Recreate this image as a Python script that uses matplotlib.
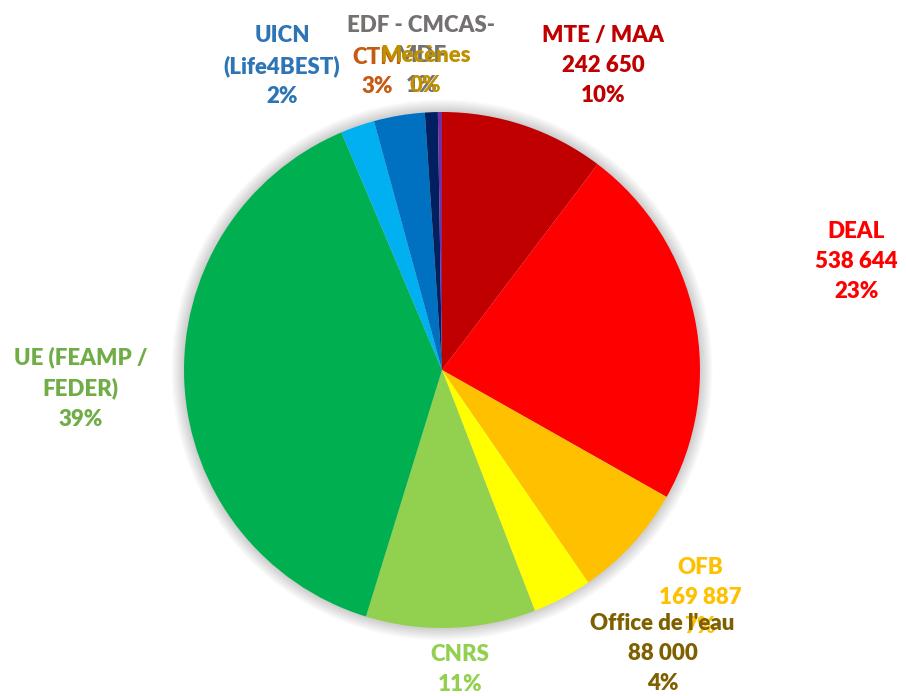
import matplotlib
matplotlib.use("Agg")
import matplotlib.pyplot as plt
from matplotlib.patches import Circle

# funding sources
sources = ["MTE / MAA", "DEAL", "OFB", "Office de l'eau", "CNRS",
           "UE (FEAMP /\nFEDER)", "UICN\n(Life4BEST)", "CTM",
           "EDF - CMCAS-\nMDF", "Mécènes"]
amounts = [242650, 538644, 169887, 88000, 250000,
           915000, 50000, 75000, 19000, 6000]
show_amount = [True, True, True, True, False,
               False, False, False, False, False]

slice_colors = ["#C00000", "#FF0000", "#FFC000", "#FFFF00", "#92D050",
                "#00B050", "#00B0F0", "#0070C0", "#002060", "#7030A0"]
text_colors = ["#C00000", "#FF0000", "#FFC000", "#7F6000", "#92D050",
               "#70AD47", "#2E75B6", "#C55A11", "#767171", "#BF9000"]
# label centres, in units of the pie radius
label_pos = [(0.625, 1.18), (1.605, 0.42), (1.0, -0.88), (0.855, -1.10),
             (0.07, -1.16), (-1.40, -0.07), (-0.62, 1.18), (-0.25, 1.155),
             (-0.08, 1.22), (-0.065, 1.16)]

fig = plt.figure(figsize=(9.06, 6.96), dpi=100)
ax = fig.add_axes([0, 0, 1, 1])

# soft shadow behind the pie
for i in range(8):
    ax.add_patch(Circle((0, 0), 1.0 + 0.006 * (i + 1), color="#000000",
                        alpha=0.025, linewidth=0, zorder=0))

ax.pie(amounts, colors=slice_colors, startangle=90, counterclock=False,
       radius=1.0, wedgeprops=dict(linewidth=0, zorder=1))

total = sum(amounts)
for name, amt, show, col, (x, y) in zip(sources, amounts, show_amount,
                                        text_colors, label_pos):
    pct = round(100 * amt / total)
    lines = [name]
    if show:
        lines.append(f"{amt:,}".replace(",", " "))
    lines.append(f"{pct}%")
    ax.text(x, y, "\n".join(lines), ha="center", va="center", color=col,
            fontsize=16, fontweight="heavy", family="Lato", linespacing=1.52)

ax.set_xlim(-442 / 258, (906 - 442) / 258)
ax.set_ylim(-(696 - 370) / 258, 370 / 258)
ax.set_aspect("equal")
ax.axis("off")

fig.savefig("out.png", dpi=100)
